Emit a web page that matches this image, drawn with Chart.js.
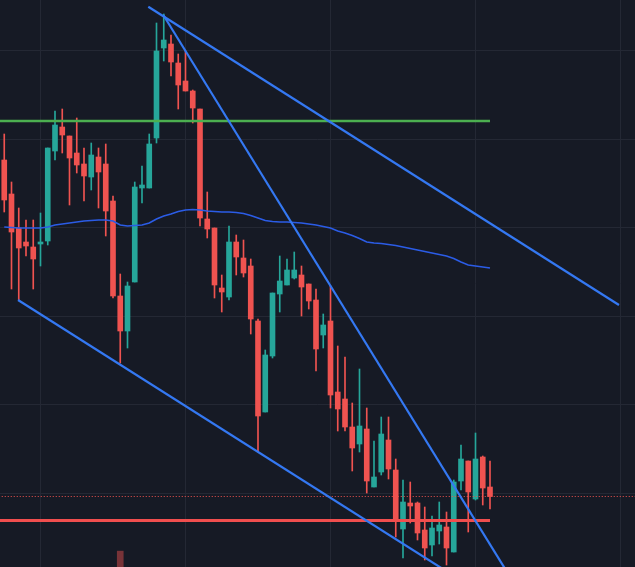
<!DOCTYPE html>
<html>
<head>
<meta charset="utf-8">
<script src="https://cdn.jsdelivr.net/npm/chart.js@4.4.1/dist/chart.umd.min.js"></script>
<style>
    html, body { margin: 0; padding: 0; background: #161a25; }
    #wrap { position: relative; width: 635px; height: 567px; }
</style>
</head>
<body>
<div id="wrap"><canvas id="priceChart"></canvas></div>
<script>
// candle OHLC (index = bar number)
const opens = [118.0,111.2,104.4,101.6,100.6,101.2,101.8,119.8,124.6,122.8,
    119.4,117.2,114.6,118.6,117.2,109.8,90.8,83.8,93.6,112.4,
    112.4,122.4,140.4,141.2,137.4,133.8,131.8,128.2,106.2,104.4,
    92.4,90.6,101.6,98.4,96.8,85.8,67.6,78.8,91.2,93.0,
    94.4,95.0,93.2,90.0,83.0,85.8,71.6,70.2,64.6,61.2,
    64.2,52.6,55.6,62.0,56.0,44.2,49.4,49.4,44.0,41.0,
    43.8,44.6,39.6,53.8,57.8,50.2,58.6,52.6];
const highs = [123.2,113.6,108.4,106.0,106.0,107.4,120.4,127.8,128.2,122.8,
    126.4,120.4,121.4,120.4,121.2,110.8,95.2,93.6,113.6,116.8,
    123.2,145.4,147.2,143.0,139.2,139.8,132.0,128.2,111.6,104.4,
    95.0,104.8,103.0,102.0,98.2,86.2,80.0,91.4,98.8,98.2,
    99.6,96.8,93.2,92.2,87.2,92.8,80.8,78.6,69.4,76.2,
    68.4,61.8,66.6,66.6,58.2,54.0,53.6,49.6,48.6,46.8,
    49.6,47.6,54.0,61.0,57.8,63.4,58.8,57.8];
const lows = [107.6,92.2,90.0,98.8,92.2,96.8,101.0,118.0,119.4,109.0,
    115.4,109.8,112.0,108.4,102.8,90.4,77.4,80.4,93.6,109.4,
    112.4,121.4,137.8,134.8,128.2,131.8,125.4,104.8,102.4,90.4,
    87.6,90.0,95.0,94.6,83.2,59.6,67.6,78.4,87.6,93.0,
    94.2,86.8,88.2,75.8,80.4,68.4,63.8,63.8,55.8,59.6,
    51.4,52.6,55.0,54.2,42.6,38.4,45.4,42.0,38.0,38.8,
    41.2,37.0,39.6,52.0,43.6,50.0,49.0,48.2];
const closes = [110.0,103.6,100.4,100.8,98.2,101.6,120.4,125.0,123.0,118.4,
    117.0,114.8,119.0,115.6,107.8,90.8,83.8,92.8,112.6,113.0,
    121.2,139.8,142.0,137.6,133.0,131.8,128.4,106.4,104.2,93.0,
    91.6,101.6,98.6,95.4,86.2,66.8,79.0,91.4,93.8,96.0,
    96.0,92.6,89.8,80.2,85.0,71.0,68.2,64.6,60.4,64.8,
    53.8,54.6,63.2,56.2,45.8,49.6,48.8,43.4,40.4,44.4,
    45.0,40.4,53.6,58.2,51.6,58.2,52.4,50.7];

// moving average line
const maValues = [104.6,104.5,104.4,104.4,104.4,104.4,104.6,105.0,105.2,105.4,
    105.6,105.8,105.9,106.0,106.0,105.8,105.0,104.8,104.9,105.0,
    105.4,106.2,106.8,107.2,107.7,108.0,108.1,108.0,107.8,107.7,
    107.6,107.6,107.5,107.3,106.9,106.4,105.9,105.7,105.6,105.6,
    105.5,105.4,105.2,105.0,104.7,104.4,103.8,103.4,102.9,102.3,
    101.6,101.4,101.3,101.1,100.9,100.6,100.3,100.0,99.7,99.4,
    99.1,98.8,98.3,97.6,97.0,96.8,96.6,96.4];

// only volume bar that reaches into view
const volumeBars = [16];
const volumeValues = [2.8];

// drawings: horizontal levels and trend lines [x0, y0, x1, y1]
const resistanceLevel = 125.8;
const supportLevel = 45.9;
const upperTrend = [19.87, 148.66, 84.79, 89.0];
const steepTrend = [21.94, 147.0, 72.5, 28.2];
const lowerTrend = [1.9, 90.0, 62.9, 34.0];

// grid positions
const xGrid = [5, 25, 45, 65, 85];
const yGrid = [139.8, 122.12, 104.44, 86.76, 69.08, 51.4];

const upColor = '#26a69a';
const downColor = '#ef5350';
const trendColor = '#3478f2';

const candleColors = closes.map((c, i) => c >= opens[i] ? upColor : downColor);
const lastIdx = closes.length - 1;

function segment(line) {
    return [{ x: line[0], y: line[1] }, { x: line[2], y: line[3] }];
}

const bgPlugin = {
    id: 'bg',
    beforeDraw(chart) {
        const ctx = chart.ctx;
        ctx.save();
        ctx.fillStyle = '#161a25';
        ctx.fillRect(0, 0, chart.width, chart.height);
        ctx.restore();
    }
};

const lineBase = {
    type: 'line',
    pointRadius: 0,
    tension: 0,
    fill: false,
    yAxisID: 'y'
};

new Chart(document.getElementById('priceChart').getContext('2d'), {
    data: {
        datasets: [
            { ...lineBase, label: 'upper', data: segment(upperTrend), borderColor: trendColor, borderWidth: 2.2, order: 0 },
            { ...lineBase, label: 'steep', data: segment(steepTrend), borderColor: trendColor, borderWidth: 2.2, order: 0 },
            { ...lineBase, label: 'lower', data: segment(lowerTrend), borderColor: trendColor, borderWidth: 2.2, order: 0 },
            { ...lineBase, label: 'resistance', data: [{ x: -2, y: resistanceLevel }, { x: lastIdx, y: resistanceLevel }],
              borderColor: '#4caf50', borderWidth: 2.5, order: 0 },
            { ...lineBase, label: 'support', data: [{ x: -2, y: supportLevel }, { x: lastIdx, y: supportLevel }],
              borderColor: '#f04e4e', borderWidth: 3, order: 0 },
            { ...lineBase, label: 'last', data: [{ x: -2, y: closes[lastIdx] }, { x: 100, y: closes[lastIdx] }],
              borderColor: '#f0524f', borderWidth: 1, borderDash: [1, 2], order: 0 },
            { ...lineBase, label: 'MA', data: maValues.map((v, i) => ({ x: i, y: v })),
              borderColor: '#2b5ce6', borderWidth: 1.6, order: 1 },
            {
                type: 'bar', label: 'bodies', grouped: false, order: 2,
                data: opens.map((o, i) => ({ x: i, y: [o, closes[i]] })),
                backgroundColor: candleColors, borderWidth: 0, barThickness: 5, minBarLength: 1,
                yAxisID: 'y'
            },
            {
                type: 'bar', label: 'wicks', grouped: false, order: 3,
                data: lows.map((l, i) => ({ x: i, y: [l, highs[i]] })),
                backgroundColor: candleColors, borderWidth: 0, barThickness: 1,
                yAxisID: 'y'
            },
            {
                type: 'bar', label: 'volume', grouped: false, order: 4,
                data: volumeBars.map((b, i) => ({ x: b, y: volumeValues[i] })),
                backgroundColor: 'rgba(239, 83, 80, 0.45)', borderWidth: 0, barThickness: 6,
                yAxisID: 'yVol'
            }
        ]
    },
    options: {
        responsive: true,
        maintainAspectRatio: false,
        animation: false,
        layout: { padding: 0 },
        plugins: { legend: { display: false }, tooltip: { enabled: false } },
        scales: {
            x: {
                type: 'linear',
                offset: false,
                min: -0.586,
                max: 87.0,
                afterBuildTicks: (scale) => { scale.ticks = xGrid.map(v => ({ value: v })); },
                ticks: { display: false },
                grid: { color: '#242834', drawTicks: false, offset: false },
                border: { display: false }
            },
            y: {
                type: 'linear',
                min: 36.6,
                max: 150,
                afterBuildTicks: (scale) => { scale.ticks = yGrid.map(v => ({ value: v })); },
                ticks: { display: false },
                grid: { color: '#242834', drawTicks: false },
                border: { display: false }
            },
            yVol: {
                type: 'linear',
                display: false,
                min: 0,
                max: 100
            }
        }
    },
    plugins: [bgPlugin]
});
</script>
</body>
</html>
